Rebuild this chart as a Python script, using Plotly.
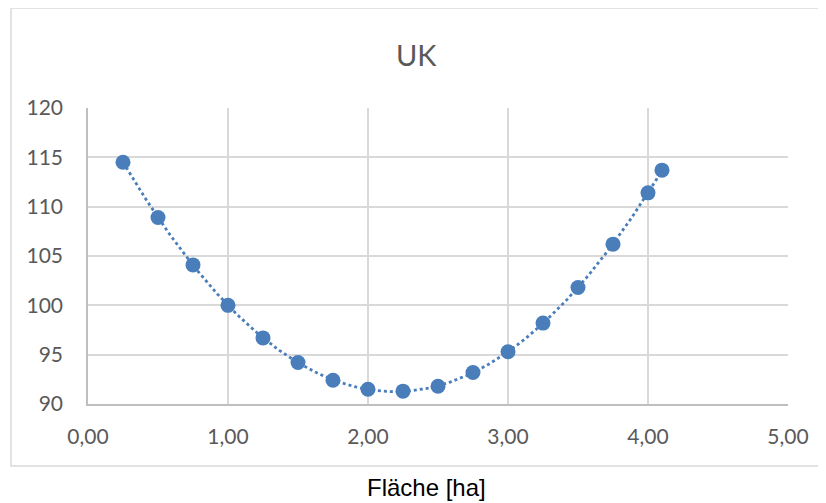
import numpy as np
import plotly.graph_objects as go

flaeche = [0.25, 0.50, 0.75, 1.00, 1.25, 1.50, 1.75, 2.00, 2.25, 2.50, 2.75, 3.00, 3.25, 3.50, 3.75, 4.00, 4.10]
uk = [114.5, 108.9, 104.1, 100.0, 96.7, 94.2, 92.4, 91.5, 91.3, 91.8, 93.2, 95.3, 98.2, 101.8, 106.2, 111.4, 113.7]
x_ticks = [0, 1, 2, 3, 4, 5]
x_ticklabels = ["0,00", "1,00", "2,00", "3,00", "4,00", "5,00"]
y_ticks = [90, 95, 100, 105, 110, 115, 120]

coef = np.polyfit(flaeche, uk, 3)
xt = np.linspace(min(flaeche), max(flaeche), 200)
yt = np.polyval(coef, xt)

blue = "#4a7ebb"
fig = go.Figure()
fig.add_trace(go.Scatter(x=xt, y=yt, mode="lines",
                         line=dict(color=blue, width=2.8, dash="dot"),
                         hoverinfo="skip", showlegend=False))
fig.add_trace(go.Scatter(x=flaeche, y=uk, mode="markers",
                         marker=dict(color=blue, size=15),
                         showlegend=False))

grid = "#d9d9d9"
fig.update_layout(
    width=818, height=495,
    margin=dict(l=80, r=38, t=100, b=99),
    paper_bgcolor="white", plot_bgcolor="white",
    font=dict(family="Lato, sans-serif", color="#595959", size=21),
    showlegend=False,
    xaxis=dict(range=[0, 5], tickvals=x_ticks, ticktext=x_ticklabels,
               showgrid=True, gridcolor=grid, gridwidth=1.5,
               showline=True, linecolor="#bfbfbf", linewidth=1.5,
               zeroline=False, ticks="outside", ticklen=13,
               tickcolor="rgba(0,0,0,0)", tickfont=dict(size=21)),
    yaxis=dict(range=[90, 120], tickvals=y_ticks,
               showgrid=True, gridcolor=grid, gridwidth=1.5,
               showline=True, linecolor="#bfbfbf", linewidth=1.5,
               zeroline=False, ticks="outside", ticklen=19,
               tickcolor="rgba(0,0,0,0)", tickfont=dict(size=21)),
    shapes=[dict(type="rect", xref="paper", yref="paper",
                 x0=-0.11, x1=1.07, y0=-0.2095, y1=1.3378,
                 line=dict(color=grid, width=1.5), layer="below")],
    annotations=[
        dict(text="UK", xref="paper", yref="paper", x=0.469, y=1.18,
             xanchor="center", yanchor="middle", showarrow=False,
             font=dict(size=29, color="#595959", family="Lato, sans-serif")),
        dict(text="Fläche [ha]", xref="paper", yref="paper", x=0.484, y=-0.282,
             xanchor="center", yanchor="middle", showarrow=False,
             font=dict(size=24, color="black", family="Liberation Sans, Arial, sans-serif")),
    ],
)

fig.write_html("out.html")
